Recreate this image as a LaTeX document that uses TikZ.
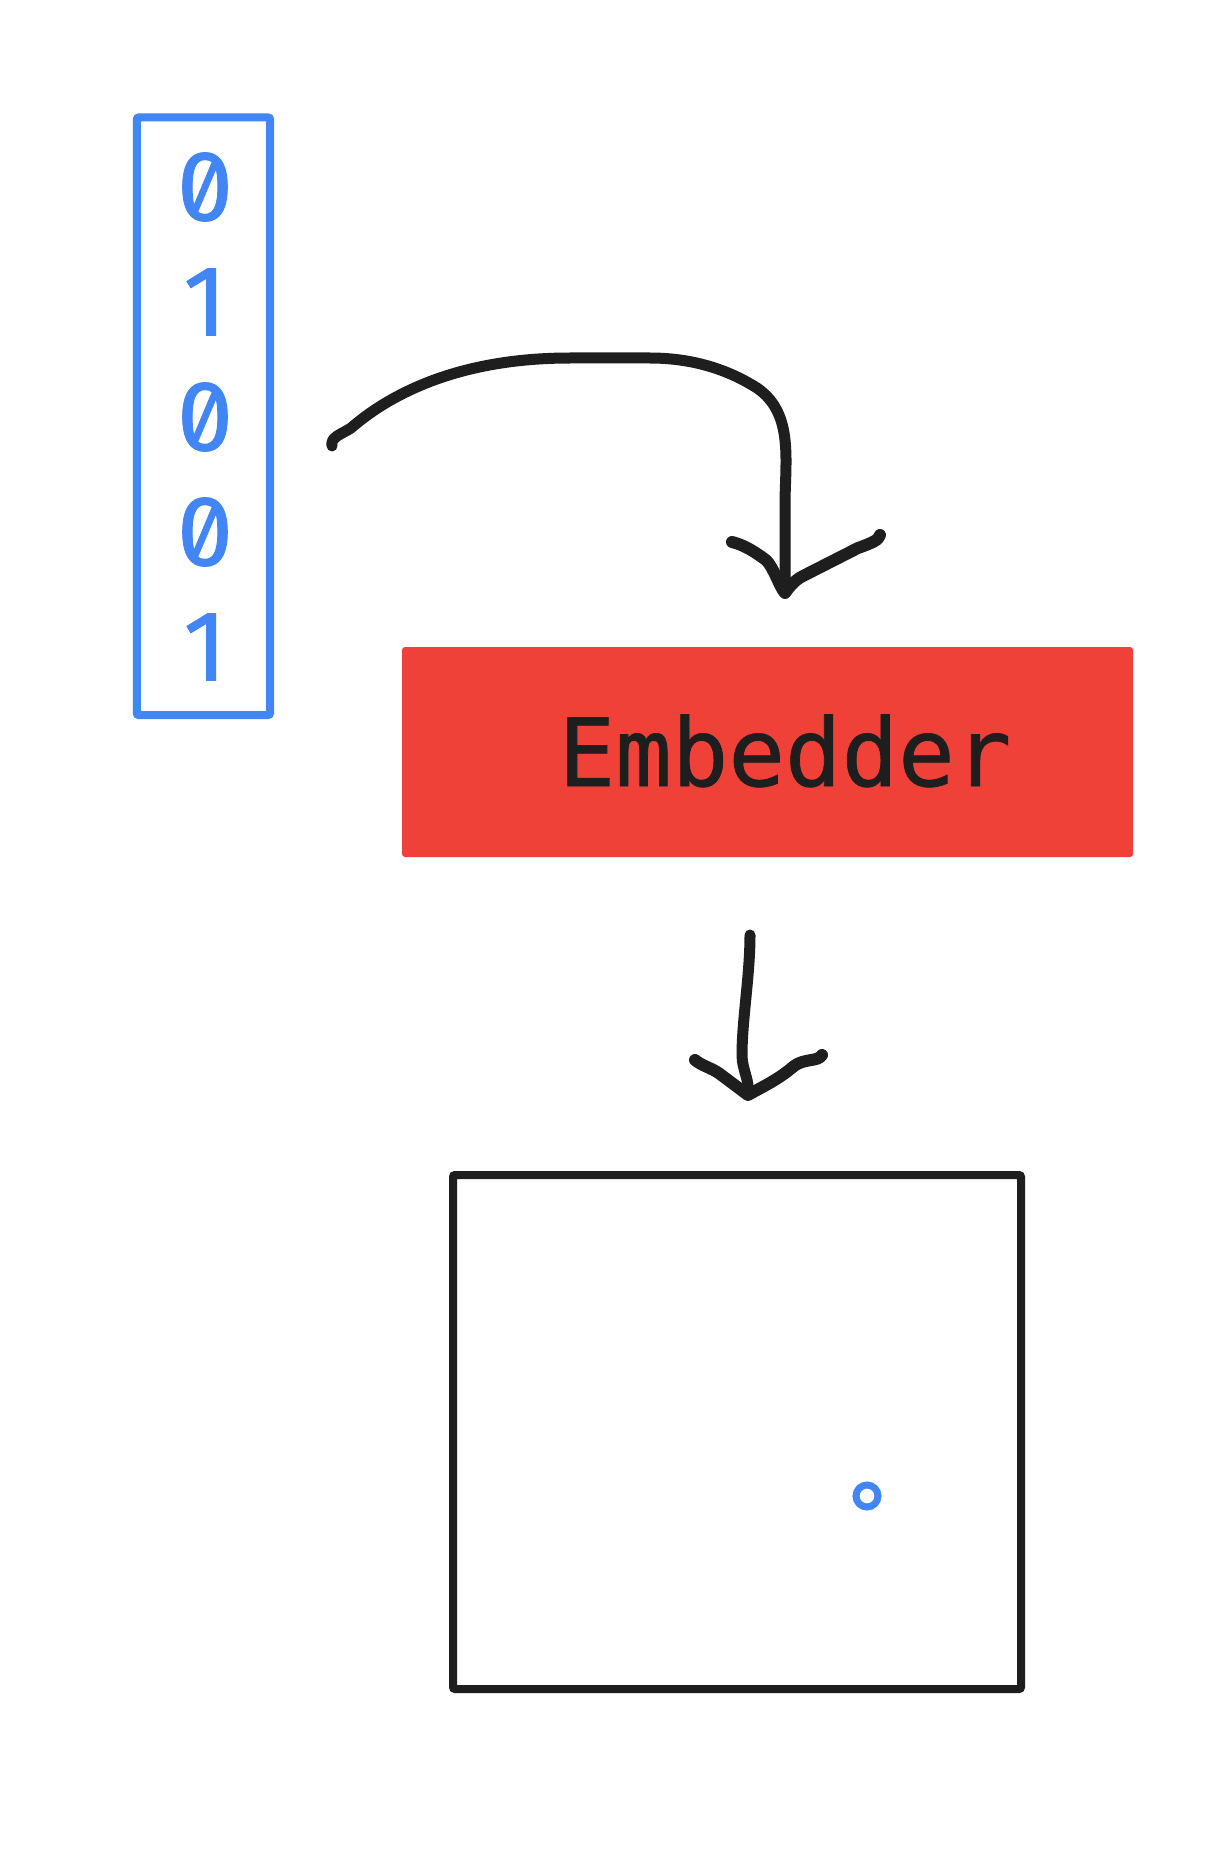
\documentclass[tikz,border=0pt]{standalone}
\usepackage{fontspec}
\newfontfamily\monofont[FakeBold=0.8]{DejaVu Sans Mono}
\newfontfamily\digitfont[RawFeature=+zero,FakeBold=0.8]{Fira Sans}
\definecolor{gblue}{HTML}{4285F4}
\definecolor{gred}{HTML}{EF4138}
\definecolor{ink}{HTML}{1E1E1E}
\begin{document}
\begin{tikzpicture}[x=0.5pt,y=-0.5pt,
  bitbox/.style={draw=gblue, line width=4pt, rounded corners=1pt, inner sep=0pt, outer sep=0pt},
  digit/.style={text=gblue, font=\digitfont\fontsize{50}{50}\selectfont, inner sep=0pt},
  embbox/.style={fill=gred, rounded corners=1.5pt, inner sep=0pt, outer sep=0pt},
  embtext/.style={text=ink, font=\monofont\fontsize{47}{47}\selectfont, inner sep=0pt, anchor=base},
  hand/.style={draw=ink, line width=5.5pt, line cap=round, line join=round},
  canvasbox/.style={draw=ink, line width=4pt, rounded corners=1pt, inner sep=0pt, outer sep=0pt},
  dotmark/.style={draw=gblue, line width=3.5pt, circle, inner sep=0pt, minimum size=11pt}]
\useasboundingbox[fill=white] (0,0) rectangle (1228,1872);

% bit vector
\node[bitbox, minimum width=66.65pt, minimum height=298.75pt] (bits) at (203.4,416.25) {};
\node[digit] (d1) at (205,187) {0};
\node[digit] (d2) at (205,302) {1};
\node[digit] (d3) at (205,417) {0};
\node[digit] (d4) at (205,532) {0};
\node[digit] (d5) at (205,647) {1};

% embedder
\node[embbox, minimum width=365.5pt, minimum height=105pt] (emb) at (767.5,752) {};
\node[embtext] (embl) at (785,786) {Embedder};

% output canvas
\node[canvasbox, minimum width=284pt, minimum height=257pt] (canvas) at (737,1432) {};
\node[dotmark] (pt) at (867,1496) {};

% arrow 1 : bits -> embedder
\coordinate (a1s) at (332,446);
\coordinate (a1e) at (785,593);
\draw[hand] (a1s) .. controls (330,437) and (342,434) .. (351,428)
  .. controls (395,390) and (465,358) .. (570,358)
  -- (650,358)
  .. controls (700,358) and (735,374) .. (757,388)
  .. controls (792,412) and (786,455) .. (785,500)
  -- (a1e);
\draw[hand, line width=6pt] (732,542) .. controls (748,546) and (760,556) .. (766,560)
  .. controls (774,568) and (779,586) .. (a1e)
  .. controls (790,586) and (795,580) .. (803,576)
  -- (858,548) .. controls (872,543) and (879,540) .. (880,535);

% arrow 2 : embedder -> canvas
\coordinate (a2s) at (750,935);
\coordinate (a2e) at (748,1095);
\draw[hand] (a2s) .. controls (750,975) and (742,1020) .. (742,1055)
  .. controls (742,1070) and (750,1080) .. (a2e);
\draw[hand, line width=6pt] (695,1060) .. controls (702,1066) and (712,1068) .. (720,1074)
  -- (a2e) .. controls (760,1088) and (778,1080) .. (794,1066)
  .. controls (805,1058) and (818,1062) .. (822,1055);
\end{tikzpicture}
\end{document}
